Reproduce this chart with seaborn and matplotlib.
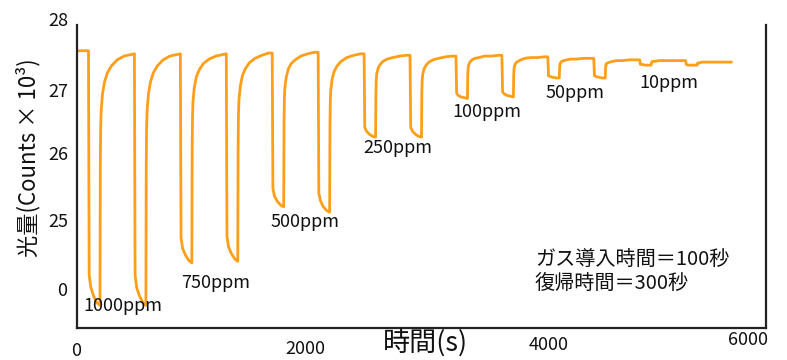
import matplotlib
matplotlib.use("Agg")
import matplotlib.pyplot as plt
import pandas as pd
import seaborn as sns

# ---- data ----
concentrations_ppm = [1000, 1000, 750, 750, 500, 500, 250, 250, 100, 100, 50, 50, 10, 10]
cycle_start_s = [100, 500, 900, 1300, 1700, 2100, 2500, 2900, 3300, 3700, 4100, 4500, 4900, 5300]
sample_offset_s = [0, 6, 20, 45, 75, 100, 103, 106, 110, 122, 140, 165, 200, 250, 310, 370]
cycle_counts_k = [
    [27.66, 24.70, 24.54, 24.42, 24.33, 24.30, 26.13, 26.62, 26.86, 27.09, 27.25, 27.37, 27.46, 27.54, 27.59, 27.61],
    [27.62, 24.70, 24.53, 24.42, 24.33, 24.30, 26.13, 26.62, 26.86, 27.09, 27.25, 27.37, 27.46, 27.54, 27.59, 27.61],
    [27.62, 25.19, 25.05, 24.96, 24.89, 24.86, 26.38, 26.79, 26.99, 27.18, 27.32, 27.41, 27.49, 27.55, 27.59, 27.61],
    [27.62, 25.21, 25.07, 24.98, 24.91, 24.88, 26.39, 26.81, 27.00, 27.19, 27.33, 27.42, 27.50, 27.56, 27.60, 27.63],
    [27.63, 25.84, 25.74, 25.67, 25.62, 25.60, 26.72, 27.03, 27.17, 27.31, 27.42, 27.49, 27.54, 27.59, 27.62, 27.64],
    [27.64, 25.78, 25.68, 25.60, 25.55, 25.53, 26.68, 26.99, 27.14, 27.29, 27.39, 27.46, 27.52, 27.57, 27.60, 27.62],
    [27.62, 26.65, 26.60, 26.56, 26.53, 26.52, 27.11, 27.28, 27.35, 27.43, 27.48, 27.52, 27.55, 27.57, 27.59, 27.60],
    [27.60, 26.65, 26.60, 26.56, 26.53, 26.52, 27.11, 27.27, 27.34, 27.42, 27.47, 27.51, 27.54, 27.56, 27.58, 27.59],
    [27.59, 27.10, 27.07, 27.05, 27.04, 27.03, 27.34, 27.43, 27.47, 27.51, 27.54, 27.56, 27.57, 27.59, 27.59, 27.60],
    [27.60, 27.12, 27.09, 27.07, 27.06, 27.05, 27.34, 27.42, 27.46, 27.50, 27.52, 27.54, 27.56, 27.57, 27.57, 27.58],
    [27.58, 27.33, 27.32, 27.31, 27.30, 27.30, 27.44, 27.48, 27.50, 27.52, 27.53, 27.54, 27.55, 27.55, 27.56, 27.56],
    [27.56, 27.33, 27.32, 27.31, 27.30, 27.30, 27.43, 27.47, 27.49, 27.50, 27.51, 27.52, 27.53, 27.53, 27.54, 27.54],
    [27.54, 27.48, 27.48, 27.47, 27.47, 27.47, 27.50, 27.51, 27.52, 27.52, 27.52, 27.53, 27.53, 27.53, 27.53, 27.53],
    [27.53, 27.48, 27.47, 27.47, 27.47, 27.47, 27.49, 27.50, 27.50, 27.50, 27.51, 27.51, 27.51, 27.51, 27.51, 27.51],
]
start_point = (0, 27.66)
end_point = (5700, 27.51)

label_texts = ["1000ppm", "750ppm", "500ppm", "250ppm", "100ppm", "50ppm", "10ppm"]
label_x = [52, 906, 1681, 2491, 3266, 4084, 4894]
label_y = [24.29, 24.59, 25.40, 26.38, 26.85, 27.10, 27.23]

ytick_labels = ["28", "27", "26", "25", "0"]
xtick_labels = ["0", "2000", "4000", "6000"]

# ---- build table ----
times = [start_point[0]]
counts = [start_point[1]]
for t0, vals in zip(cycle_start_s, cycle_counts_k):
    for off, v in zip(sample_offset_s, vals):
        times.append(t0 + off)
        counts.append(v)
times.append(end_point[0])
counts.append(end_point[1])
df = pd.DataFrame({"time": times, "counts": counts})

# ---- style ----
sns.set_theme(style="white")
FONT = ["Noto Sans CJK JP", "DejaVu Sans"]
plt.rcParams["font.family"] = FONT

W, H = 787, 360
fig = plt.figure(figsize=(W / 100, H / 100), dpi=100)
L, R, T, B = 77, 766, 25, 328
ax = fig.add_axes([L / W, 1 - B / H, (R - L) / W, (B - T) / H])

sns.lineplot(data=df, x="time", y="counts", ax=ax, color="#FF9E18",
             linewidth=2.0, estimator=None, sort=False)

ax.set_xlim(0, 6000)
ax.set_ylim(24, 28)
ax.set_xlabel("")
ax.set_ylabel("")
ax.set_xticks([1000, 2000, 3000, 4000, 5000])
ax.set_yticks([25, 26, 27])
ax.set_xticklabels([])
ax.set_yticklabels([])
ax.tick_params(axis="both", direction="in", length=5, width=1, color="#9a9a9a")

for side in ["left", "bottom", "right"]:
    ax.spines[side].set_color("#222222")
    ax.spines[side].set_linewidth(1.6)
ax.spines["top"].set_visible(False)

# tick labels placed as in the reference
def fpos(px, py):
    return px / W, 1 - py / H

ytick_px = [(68, 21), (68, 92), (68, 155), (68, 222), (67, 291)]
for lab, (px, py) in zip(ytick_labels, ytick_px):
    fig.text(*fpos(px, py), lab, ha="right", va="center", fontsize=13, family=FONT, color="#111111")

xtick_px = [(76, 351), (305, 349), (549, 345), (748, 340)]
for lab, (px, py) in zip(xtick_labels, xtick_px):
    fig.text(*fpos(px, py), lab, ha="center", va="center", fontsize=13, family=FONT, color="#111111")

# axis titles
fig.text(*fpos(425, 344), "時間(s)", ha="center", va="center", fontsize=19.5, family=FONT, color="#111111")
fig.text(*fpos(28, 158), "光量(Counts × 10³)", ha="center", va="center", rotation=90,
         fontsize=16, family=FONT, color="#111111")

# concentration labels
for txt, x, y in zip(label_texts, label_x, label_y):
    ax.text(x, y, txt, ha="left", va="center", fontsize=13, family=FONT, color="#111111")

ax.text(3988, 24.90, "ガス導入時間＝100秒", ha="left", va="center", fontsize=14.5, family=FONT, color="#111111")
ax.text(3988, 24.59, "復帰時間＝300秒", ha="left", va="center", fontsize=14.5, family=FONT, color="#111111")

fig.savefig("out.png", dpi=100)
